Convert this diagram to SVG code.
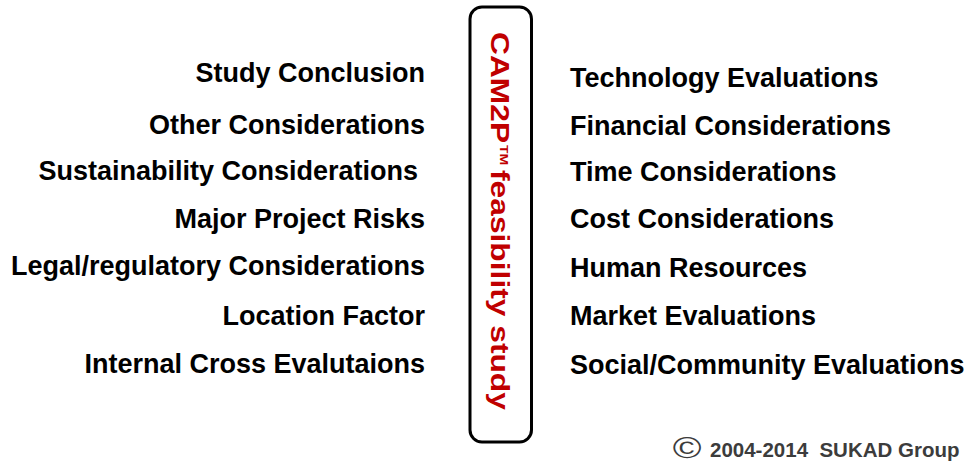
<svg xmlns="http://www.w3.org/2000/svg" width="968" height="463" viewBox="0 0 968 463">
<style>
.item{font-family:"Liberation Sans",Arial,sans-serif;font-weight:bold;font-size:27px;fill:#000}
.l{text-anchor:end}
.title{font-family:"Liberation Sans",Arial,sans-serif;font-weight:bold;fill:#c00000}
.copy{font-family:"Liberation Sans",Arial,sans-serif;fill:#3c3c3c}
</style>
<rect width="968" height="463" fill="#fff"/>
<g id="center">
<rect x="470" y="7" width="61.5" height="435" rx="12" ry="12" fill="#fff" stroke="#000" stroke-width="3"/>
<g transform="translate(491,32) rotate(90) scale(1.27,1)">
<text class="title" x="0" y="0" font-size="25">CAM2P</text>
<text class="title" x="89" y="-9" font-size="11">TM</text>
<text class="title" x="108.7" y="0" font-size="25">feasibility study</text>
</g>
</g>
<g id="left">
<text class="item l" x="425" y="82">Study Conclusion</text>
<text class="item l" x="425" y="134">Other Considerations</text>
<text class="item l" x="418" y="180">Sustainability Considerations</text>
<text class="item l" x="425" y="228">Major Project Risks</text>
<text class="item l" x="425" y="275">Legal/regulatory Considerations</text>
<text class="item l" x="425" y="325">Location Factor</text>
<text class="item l" x="425" y="373">Internal Cross Evalutaions</text>
</g>
<g id="right">
<text class="item" x="570" y="87">Technology Evaluations</text>
<text class="item" x="570" y="135">Financial Considerations</text>
<text class="item" x="570" y="181">Time Considerations</text>
<text class="item" x="570" y="228">Cost Considerations</text>
<text class="item" x="570" y="277">Human Resources</text>
<text class="item" x="570" y="325">Market Evaluations</text>
<text class="item" x="570" y="374">Social/Community Evaluations</text>
</g>
<g id="copyright">
<text class="copy" transform="translate(687,458) scale(1.3,1)" text-anchor="middle" font-size="30">©</text>
<text class="copy" x="710" y="457" font-size="20.5" font-weight="bold" xml:space="preserve">2004-2014  SUKAD Group</text>
</g>
<g id="connectors"></g>
</svg>
